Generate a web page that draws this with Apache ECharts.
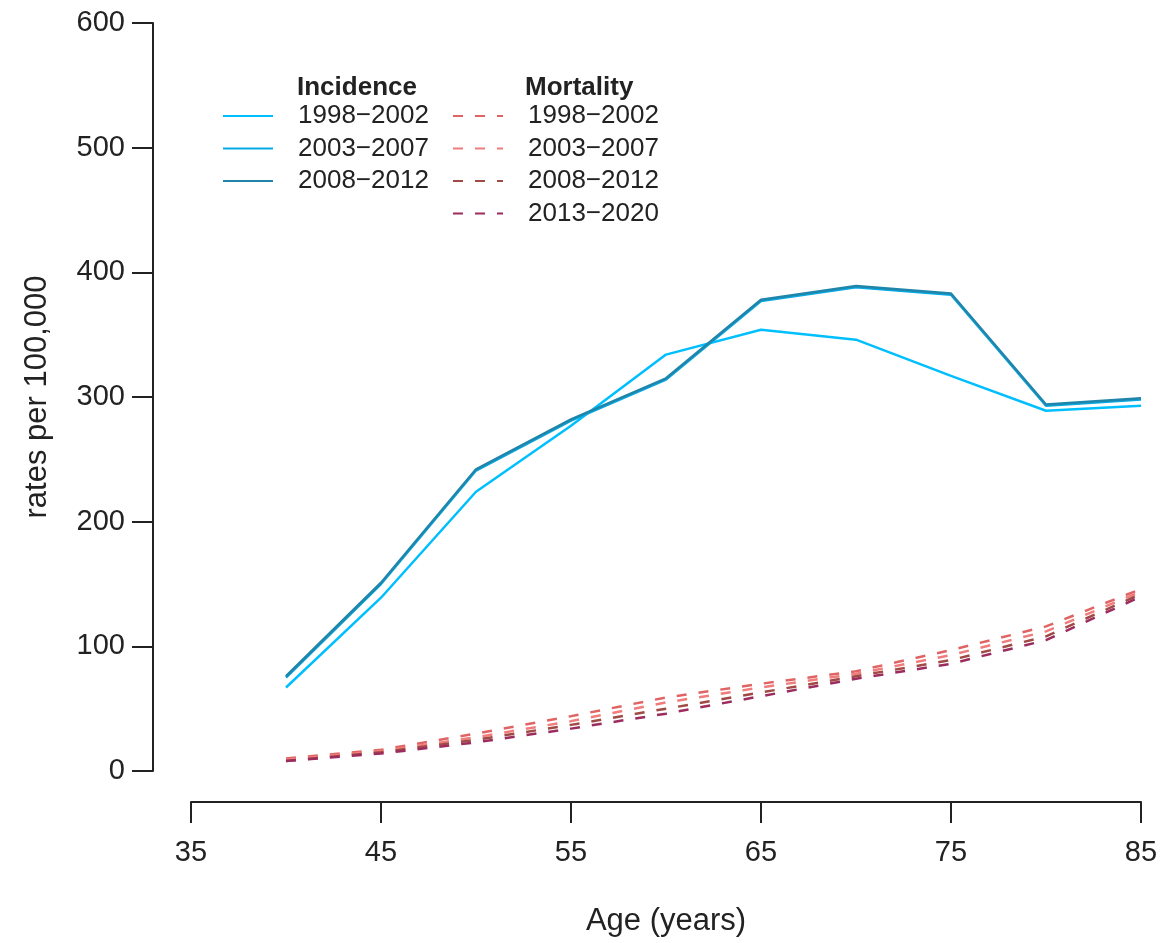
<!DOCTYPE html>
<html>
<head>
<meta charset="utf-8">
<script src="https://cdn.jsdelivr.net/npm/echarts@6/dist/echarts.min.js"></script>
<style>html,body{margin:0;padding:0;background:#fff;}#c{width:1164px;height:943px;}</style>
</head>
<body>
<div id="c"></div>
<script>
const ages = [40, 45, 50, 55, 60, 65, 70, 75, 80, 85];
const periodsInc = ['1998−2002', '2003−2007', '2008−2012'];
const periodsMort = ['1998−2002', '2003−2007', '2008−2012', '2013−2020'];
const inc1998 = [67, 139, 224, 277, 334, 354, 346, 317, 289, 293];
const inc2003 = [75, 150, 241, 281, 314, 377, 388, 382, 293, 298];
const inc2008 = [76, 151, 242, 282, 315, 378, 389, 383, 294, 299];
const mort1998 = [10, 17, 30, 44, 59, 70, 80, 97, 116, 146];
const mort2003 = [9, 16, 27, 40, 55, 67, 78, 93, 112, 144];
const mort2008 = [8, 15, 25, 37, 50, 63, 76, 89, 108, 142];
const mort2013 = [8, 14, 23, 34, 46, 60, 74, 86, 105, 140];
const xTicks = [35, 45, 55, 65, 75, 85];

const incColors = ['#00BFFF', '#06A9E2', '#2085AA'];
const mortColors = ['#E06464', '#F07C7C', '#A04A45', '#9C2B5E'];
const FONT = 'Liberation Sans';

function pairs(vals) { return ages.map((a, i) => [a, vals[i]]); }

const incData = [inc1998, inc2003, inc2008];
const mortData = [mort1998, mort2003, mort2008, mort2013];

const series = [];
mortData.forEach((d, i) => {
  series.push({
    name: 'Mortality ' + periodsMort[i], type: 'line', data: pairs(d),
    symbol: 'none', silent: true,
    lineStyle: { color: mortColors[i], width: 2.5, type: [10, 12] },
    itemStyle: { color: mortColors[i] }
  });
});
incData.forEach((d, i) => {
  series.push({
    name: 'Incidence ' + periodsInc[i], type: 'line', data: pairs(d),
    symbol: 'none', silent: true,
    lineStyle: { color: incColors[i], width: 2.5 },
    itemStyle: { color: incColors[i] }
  });
});

const legendCommon = {
  orient: 'vertical', padding: 0, itemWidth: 50, itemHeight: 26, itemGap: 6.5,
  selectedMode: false,
  itemStyle: { opacity: 0 },
  formatter: n => n.replace(/^(Incidence|Mortality) /, ''),
  textStyle: { fontFamily: FONT, fontSize: 26, color: '#222', lineHeight: 26, padding: [0, 0, 0, 20] }
};

const chart = echarts.init(document.getElementById('c'));
chart.setOption({
  animation: false,
  backgroundColor: '#fff',
  grid: { left: 191, right: 23, top: 23, bottom: 172, containLabel: false },
  xAxis: {
    type: 'value', min: 35, max: 85, interval: 10, offset: 31,
    name: 'Age (years)', nameLocation: 'middle', nameGap: 104,
    nameTextStyle: { fontFamily: FONT, fontSize: 31, color: '#222' },
    axisLine: { show: true, onZero: false, lineStyle: { color: '#222', width: 2 } },
    axisTick: { show: true, length: 21, lineStyle: { color: '#222', width: 2 } },
    axisLabel: { fontFamily: FONT, fontSize: 29, color: '#222', margin: 36,
      customValues: xTicks },
    splitLine: { show: false }
  },
  yAxis: {
    type: 'value', min: 0, max: 600, interval: 100, offset: 38,
    name: 'rates per 100,000', nameLocation: 'middle', nameGap: 100, nameRotate: 90,
    nameTextStyle: { fontFamily: FONT, fontSize: 31, color: '#222' },
    axisLine: { show: true, onZero: false, lineStyle: { color: '#222', width: 2 } },
    axisTick: { show: true, length: 21, lineStyle: { color: '#222', width: 2 } },
    axisLabel: { fontFamily: FONT, fontSize: 29, color: '#222', margin: 28 },
    splitLine: { show: false }
  },
  legend: [
    Object.assign({}, legendCommon, { left: 222, top: 103, data: periodsInc.map(p => 'Incidence ' + p) }),
    Object.assign({}, legendCommon, { left: 452, top: 103, data: periodsMort.map(p => 'Mortality ' + p) })
  ],
  graphic: [
    { type: 'text', left: 297, top: 75, style: { text: 'Incidence', font: 'bold 26px "Liberation Sans"', fill: '#222' } },
    { type: 'text', left: 525, top: 75, style: { text: 'Mortality', font: 'bold 26px "Liberation Sans"', fill: '#222' } }
  ],
  series: series
});
</script>
</body>
</html>
